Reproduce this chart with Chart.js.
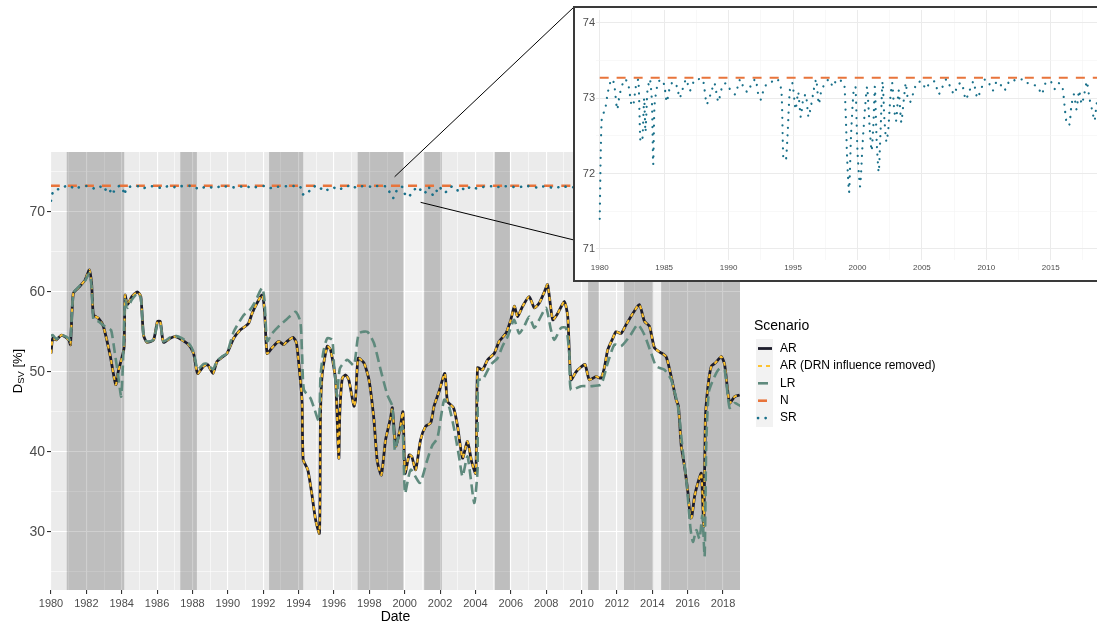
<!DOCTYPE html>
<html>
<head>
<meta charset="utf-8">
<script src="https://cdn.jsdelivr.net/npm/chart.js@4.4.0/dist/chart.umd.min.js"></script>
<style>
  html, body { margin: 0; padding: 0; background: #fff; overflow: hidden; width: 1097px; height: 624px; }
  #main { position: absolute; left: 0; top: 0; }
  #insetBox { position: absolute; left: 573px; top: 6px; width: 560px; height: 276px; border: 2px solid #3a3a3a; background: #fff; box-sizing: border-box; }
  #inset { position: absolute; left: 0; top: 0; }
</style>
</head>
<body>
<canvas id="main" width="1097" height="624"></canvas>
<div id="insetBox"><canvas id="inset" width="530" height="272"></canvas></div>
<script>
// ---- data ----
const arYears = [1980.0, 1980.1, 1980.3, 1980.6, 1981.0, 1981.1, 1981.26, 1981.55, 1981.93, 1982.17, 1982.3, 1982.4, 1982.68, 1982.96, 1983.34, 1983.66, 1983.8, 1984.0, 1984.13, 1984.19, 1984.32, 1984.57, 1984.89, 1985.08, 1985.23, 1985.42, 1985.8, 1986.02, 1986.18, 1986.36, 1986.74, 1987.03, 1987.4, 1987.78, 1988.06, 1988.29, 1988.63, 1988.86, 1989.16, 1989.39, 1989.67, 1989.95,
  1990.33, 1990.71, 1990.99, 1991.18, 1991.37, 1991.65, 1991.94, 1992.07, 1992.22, 1992.5, 1992.88, 1993.16, 1993.35, 1993.69, 1993.88, 1994.1, 1994.2, 1994.26, 1994.52, 1994.77, 1994.96, 1995.18, 1995.24, 1995.34, 1995.62, 1995.81, 1996.09, 1996.22, 1996.28, 1996.33, 1996.47, 1996.66, 1996.84, 1997.13, 1997.22, 1997.37, 1997.7, 1997.98, 1998.26, 1998.45, 1998.68, 1998.92, 1999.2, 1999.3, 1999.49, 1999.73, 1999.9,
  2000.02, 2000.25, 2000.4, 2000.62, 2000.9, 2001.19, 2001.47, 2001.66, 2001.94, 2002.27, 2002.42, 2002.76, 2002.99, 2003.27, 2003.55, 2003.78, 2004.02, 2004.12, 2004.4, 2004.69, 2005.06, 2005.34, 2005.72, 2006.0, 2006.2, 2006.38, 2006.67, 2007.04, 2007.33, 2007.61, 2007.9, 2008.08, 2008.37, 2008.65, 2009.03, 2009.22, 2009.4, 2009.69, 2009.97,
  2010.2, 2010.44, 2010.82, 2011.1, 2011.29, 2011.48, 2011.77, 2011.95, 2012.24, 2012.52, 2012.9, 2013.27, 2013.56, 2013.84, 2014.12, 2014.4, 2014.78, 2015.07, 2015.35, 2015.48, 2015.64, 2015.82, 2016.02, 2016.15, 2016.23, 2016.39, 2016.58, 2016.77, 2016.86, 2016.92, 2017.0, 2017.15, 2017.34, 2017.56, 2017.9, 2018.09, 2018.37, 2018.66, 2018.94];
const arValues = [52.3, 54.2, 54.0, 54.6, 54.0, 53.4, 59.8, 60.5, 61.5, 62.75, 60.9, 57.1, 56.7, 55.7, 52.1, 48.4, 50.0, 51.7, 53.0, 59.6, 58.4, 59.4, 60.0, 59.4, 54.6, 53.7, 54.0, 56.3, 56.3, 53.7, 54.2, 54.4, 54.0, 53.4, 52.3, 49.8, 50.7, 50.9, 49.8, 51.3, 51.8, 52.3,
  54.2, 55.25, 55.7, 56.1, 57.3, 58.6, 59.6, 57.75, 52.3, 53.0, 53.8, 53.4, 53.8, 54.3, 53.6, 49.0, 46.1, 39.0, 37.75, 34.4, 31.5, 29.8, 44.8, 49.8, 53.2, 52.75, 49.0, 41.5, 39.2, 44.8, 49.2, 49.6, 49.0, 45.7, 46.5, 51.7, 51.1, 49.0, 44.0, 38.8, 37.1, 41.5, 44.2, 45.5, 40.7, 42.75, 45.0,
  37.3, 39.6, 39.4, 37.75, 41.5, 43.2, 43.6, 45.7, 47.5, 49.8, 46.3, 45.5, 43.2, 39.2, 41.3, 38.8, 37.3, 50.5, 50.25, 51.5, 52.3, 53.8, 54.8, 56.5, 58.2, 56.9, 58.2, 59.4, 58.0, 58.6, 60.0, 60.9, 56.5, 57.3, 58.8, 56.9, 49.0, 50.0, 50.6,
  50.9, 49.0, 49.4, 49.2, 50.5, 52.75, 54.2, 55.0, 54.8, 55.9, 57.3, 58.4, 56.3, 55.7, 53.0, 52.5, 51.9, 49.4, 46.5, 45.7, 40.7, 38.2, 34.8, 31.7, 31.8, 34.4, 36.1, 37.3, 33.2, 30.7, 44.0, 48.2, 50.7, 51.1, 51.9, 50.9, 46.1, 46.9, 47.1];
// AR with DRN influence removed sits on top of AR in the picture
const drnYears = arYears;
const drnValues = arValues;
const lrYears = [1980.0, 1980.1, 1980.3, 1980.6, 1981.0, 1981.1, 1981.26, 1981.55, 1981.93, 1982.17, 1982.3, 1982.4, 1982.68, 1982.96, 1983.2, 1983.4, 1983.6, 1983.8, 1983.97, 1984.1, 1984.19, 1984.32, 1984.57, 1984.89, 1985.08, 1985.23, 1985.42, 1985.8, 1986.02, 1986.18, 1986.36, 1986.74, 1987.03, 1987.4, 1987.78, 1988.06, 1988.29, 1988.63, 1988.86, 1989.16, 1989.39, 1989.67, 1989.95,
  1990.33, 1990.9, 1991.2, 1991.5, 1991.94, 1992.07, 1992.22, 1992.5, 1992.97, 1993.3, 1993.82, 1994.1, 1994.2, 1994.3, 1994.67, 1994.9, 1995.15, 1995.24, 1995.4, 1995.62, 1995.9, 1996.0, 1996.18, 1996.33, 1996.75, 1997.13, 1997.41, 1997.89, 1998.26, 1998.64, 1999.02, 1999.3, 1999.44, 1999.6, 1999.87,
  2000.02, 2000.34, 2000.86, 2001.28, 2001.56, 2001.85, 2002.23, 2002.5, 2002.8, 2003.1, 2003.27, 2003.55, 2003.93, 2004.12, 2004.15, 2004.4, 2004.87, 2005.25, 2005.53, 2005.82, 2006.19, 2006.47, 2006.76, 2007.04, 2007.33, 2007.6, 2007.99, 2008.27, 2008.46, 2008.84, 2009.12, 2009.31, 2009.4, 2009.97,
  2010.5, 2011.1, 2011.48, 2011.86, 2012.24, 2012.71, 2013.18, 2013.56, 2013.94, 2014.22, 2014.69, 2015.07, 2015.45, 2015.73, 2015.92, 2016.16, 2016.3, 2016.49, 2016.67, 2016.83, 2016.96, 2017.05, 2017.2, 2017.52, 2017.8, 2018.09, 2018.37, 2018.66, 2019.0];
const lrValues = [54.5, 54.6, 54.1, 54.6, 54.2, 53.8, 59.8, 60.6, 61.4, 62.3, 60.5, 56.5, 56.3, 55.8, 55.5, 55.2, 52.5, 49.5, 46.9, 53.0, 59.0, 58.0, 59.0, 59.8, 59.2, 54.6, 53.8, 54.0, 56.0, 56.0, 53.8, 54.3, 54.5, 54.2, 53.6, 52.5, 50.3, 51.0, 51.0, 50.3, 51.4, 51.9, 52.3,
  55.0, 57.1, 57.6, 58.6, 60.5, 59.0, 53.8, 54.8, 55.9, 56.5, 57.5, 56.3, 52.0, 47.75, 46.7, 45.3, 43.8, 49.5, 52.5, 54.2, 54.0, 51.0, 46.9, 50.4, 51.5, 50.8, 54.8, 55.0, 53.6, 50.25, 47.1, 45.7, 40.2, 41.5, 43.2,
  34.8, 37.75, 36.1, 39.0, 40.8, 41.7, 46.5, 45.7, 42.8, 39.0, 36.9, 39.4, 33.6, 37.75, 49.0, 49.0, 50.9, 51.7, 53.2, 54.4, 56.5, 54.8, 55.7, 56.9, 55.5, 56.5, 58.0, 55.25, 54.0, 55.5, 55.5, 52.3, 47.75, 48.2,
  48.2, 48.4, 51.1, 53.4, 53.2, 54.4, 55.9, 54.6, 52.3, 50.7, 50.25, 49.0, 45.7, 40.0, 36.6, 30.4, 28.7, 30.2, 29.1, 32.0, 26.9, 40.7, 47.5, 49.4, 50.4, 50.2, 45.5, 46.1, 45.7];
const nYears = [1980, 2018.96];
const nValues = [73.27, 73.27];
const srYears = [1980.0, 1980.08, 1980.17, 1980.42, 1980.6, 1980.8, 1981.0, 1981.15, 1981.35, 1981.55, 1981.8, 1982.0, 1982.25, 1982.45, 1982.6, 1982.8, 1983.0, 1983.15, 1983.3, 1983.45, 1983.55, 1983.7, 1983.9, 1984.05, 1984.15, 1984.25, 1984.45, 1984.7,
  1985.0, 1985.2, 1985.45, 1985.7, 1986.0, 1986.2, 1986.4, 1986.7, 1987.0, 1987.3, 1987.6, 1988.0, 1988.3, 1988.6, 1988.9, 1989.2, 1989.5, 1989.8, 1990.1, 1990.5, 1990.9, 1991.2, 1991.5, 1991.8, 1992.1, 1992.3, 1992.5, 1992.7, 1993.0, 1993.4, 1993.8,
  1994.1, 1994.25, 1994.45, 1994.6, 1994.75, 1994.95, 1995.2, 1995.4, 1995.6, 1995.8, 1996.0, 1996.2, 1996.4, 1996.6, 1996.8, 1997.0, 1997.2, 1997.5, 1997.8, 1998.1, 1998.4, 1998.8,
  1999.0, 1999.2, 1999.35, 1999.5, 1999.7, 1999.85, 2000.0, 2000.2, 2000.4, 2000.6, 2000.75, 2000.95, 2001.1, 2001.25, 2001.35, 2001.5, 2001.65, 2001.8, 2001.95, 2002.1, 2002.25, 2002.4, 2002.55, 2002.7, 2002.85, 2003.0, 2003.2, 2003.4, 2003.55, 2003.75, 2003.9, 2004.1, 2004.3, 2004.6,
  2005.0, 2005.3, 2005.6, 2006.0, 2006.3, 2006.6, 2006.9, 2007.2, 2007.5, 2007.8, 2008.1, 2008.4, 2008.7, 2009.0, 2009.3, 2009.6, 2009.9, 2010.2, 2010.5, 2010.8, 2011.1, 2011.4, 2011.7, 2012.0, 2012.4, 2012.8, 2013.2, 2013.6, 2014.0, 2014.3, 2014.6,
  2015.0, 2015.3, 2015.6, 2015.9, 2016.1, 2016.25, 2016.45, 2016.6, 2016.8, 2017.0, 2017.2, 2017.4, 2017.6, 2017.8, 2018.0, 2018.2, 2018.4, 2018.6, 2018.9];
const srValues = [71.4, 72.3, 72.75, 72.85, 73.05, 73.2, 73.25, 73.15, 72.85, 73.05, 73.2, 73.25, 73.15, 72.92, 72.9, 73.15, 73.25, 72.45, 72.42, 73.0, 72.55, 73.1, 73.25, 72.95, 72.12, 72.9, 73.15, 73.25,
  73.18, 72.95, 73.15, 73.22, 73.15, 73.0, 73.1, 73.25, 73.1, 73.22, 73.25, 73.25, 72.92, 73.05, 73.2, 72.95, 73.15, 73.2, 73.12, 73.05, 73.25, 73.12, 73.08, 73.2, 73.25, 73.05, 72.98, 73.1, 73.2, 73.22, 73.25,
  73.1, 72.2, 72.18, 72.6, 73.1, 73.2, 72.85, 73.08, 72.75, 73.0, 73.05, 72.75, 72.9, 73.1, 73.25, 72.92, 73.1, 73.2, 73.25, 73.15, 73.25, 73.22,
  73.15, 72.2, 71.75, 72.5, 73.1, 73.15, 72.3, 71.83, 72.4, 72.9, 73.15, 72.6, 72.3, 72.7, 73.15, 72.4, 72.02, 72.6, 73.22, 72.7, 72.42, 72.6, 73.0, 73.2, 72.85, 72.7, 73.1, 72.68, 72.9, 73.2, 73.0, 72.95, 73.05, 73.2,
  73.22, 73.12, 73.2, 73.22, 73.05, 73.15, 73.25, 73.15, 73.05, 73.18, 73.2, 72.98, 73.1, 73.22, 73.0, 73.12, 73.25, 73.2, 73.1, 73.22, 73.18, 73.1, 73.2, 73.25, 73.22, 73.25, 73.2, 73.18, 73.15, 73.05, 73.2,
  73.22, 73.12, 73.2, 73.15, 72.85, 72.65, 72.65, 72.9, 73.05, 72.85, 73.1, 72.92, 73.05, 73.22, 73.0, 72.85, 72.7, 72.95, 72.8];

// shaded periods (dark) and the two pale gaps
const shadeStart = [1980.89, 1987.31, 1992.33, 1997.34, 2001.1, 2005.1, 2010.37, 2012.4, 2014.5];
const shadeEnd = [1984.14, 1988.25, 1994.26, 1999.93, 2002.1, 2005.95, 2010.97, 2014.05, 2018.96];
const paleStart = [1999.93, 2014.05];
const paleEnd = [2001.1, 2014.5];

// axis ticks
const xLabelYears = [1980, 1982, 1984, 1986, 1988, 1990, 1992, 1994, 1996, 1998, 2000, 2002, 2004, 2006, 2008, 2010, 2012, 2014, 2016, 2018];
const xMinorYears = [1981, 1983, 1985, 1987, 1989, 1991, 1993, 1995, 1997, 1999, 2001, 2003, 2005, 2007, 2009, 2011, 2013, 2015, 2017];
const yLabelValues = [30, 40, 50, 60, 70];
const yMinorValues = [25, 35, 45, 55, 65, 75];
const insetXLabels = [1980, 1985, 1990, 1995, 2000, 2005, 2010, 2015];
const insetXMinor = [1982.5, 1987.5, 1992.5, 1997.5, 2002.5, 2007.5, 2012.5, 2017.5];
const insetYLabels = [71, 72, 73, 74];
const insetYMinor = [71.5, 72.5, 73.5];

// zoom window corners on the main chart (data units)
const zoomFromX = [1999.43, 2000.9];
const zoomFromY = [74.4, 71.2];

const FONT = "'Liberation Sans', Arial, sans-serif";
const pts = (xs, ys) => xs.map((x, i) => ({ x: x, y: ys[i] }));

const scenarios = [
    { label: "AR", years: arYears, values: arValues, color: "#1c1c2b", width: 2.8, dash: [], order: 5 },
    { label: "AR (DRN influence removed)", years: drnYears, values: drnValues, color: "#fdc22f", width: 2, dash: [4, 4], order: 4 },
    { label: "LR", years: lrYears, values: lrValues, color: "#5f8a7d", width: 2.6, dash: [10, 5], order: 3 },
    { label: "N", years: nYears, values: nValues, color: "#e8743b", width: 2.6, dash: [9, 8], order: 2 },
    { label: "SR", years: srYears, values: srValues, color: "#19708a", width: 2.6, dash: [0.1, 7.5], cap: "round", order: 1 },
];

function setTicks(list) {
    return (scale) => { scale.ticks = list.slice().sort((a, b) => a - b).map(v => ({ value: v })); };
}

// keep chart areas exactly where the panels are
function fitWidth(w) {
    return (s) => { s.width = w; s.paddingTop = 0; s.paddingBottom = 0; };
}
function fitHeight(h) {
    return (s) => { s.height = h; s.paddingLeft = 0; s.paddingRight = 0; };
}

// panel background, shaded periods, titles, legend, connector lines
const panelPlugin = {
    id: "panel",
    beforeDraw(chart) {
        const a = chart.chartArea, ctx = chart.ctx;
        ctx.save();
        ctx.fillStyle = "#ebebeb";
        ctx.fillRect(a.left, a.top, a.right - a.left, a.bottom - a.top);
        ctx.restore();
    },
    beforeDatasetsDraw(chart) {
        const a = chart.chartArea, ctx = chart.ctx, xs = chart.scales.x;
        ctx.save();
        ctx.beginPath();
        ctx.rect(a.left, a.top, a.right - a.left, a.bottom - a.top);
        ctx.clip();
        ctx.fillStyle = "rgba(0,0,0,0.19)";
        shadeStart.forEach((s, i) => {
            const x0 = xs.getPixelForValue(s), x1 = xs.getPixelForValue(shadeEnd[i]);
            ctx.fillRect(x0, a.top, x1 - x0, a.bottom - a.top);
        });
        ctx.fillStyle = "rgba(255,255,255,0.3)";
        paleStart.forEach((s, i) => {
            const x0 = xs.getPixelForValue(s), x1 = xs.getPixelForValue(paleEnd[i]);
            ctx.fillRect(x0, a.top, x1 - x0, a.bottom - a.top);
        });
        ctx.restore();
    },
    afterDraw(chart) {
        const a = chart.chartArea, ctx = chart.ctx;
        const xs = chart.scales.x, ys = chart.scales.y;
        ctx.save();

        // x title
        ctx.fillStyle = "#000";
        ctx.font = "14px " + FONT;
        ctx.textAlign = "center";
        ctx.textBaseline = "middle";
        ctx.fillText("Date", (a.left + a.right) / 2, 617);

        // y title D_SV [%]
        ctx.save();
        ctx.translate(18, (a.top + a.bottom) / 2);
        ctx.rotate(-Math.PI / 2);
        ctx.textAlign = "left";
        ctx.textBaseline = "middle";
        ctx.font = "13px " + FONT;
        const wD = ctx.measureText("D").width;
        const wRest = ctx.measureText(" [%]").width;
        ctx.font = "9.5px " + FONT;
        const wSub = ctx.measureText("SV").width;
        let x0 = -(wD + wSub + wRest) / 2;
        ctx.font = "13px " + FONT;
        ctx.fillText("D", x0, 0);
        ctx.font = "9.5px " + FONT;
        ctx.fillText("SV", x0 + wD, 3.5);
        ctx.font = "13px " + FONT;
        ctx.fillText(" [%]", x0 + wD + wSub, 0);
        ctx.restore();

        // legend
        ctx.textAlign = "left";
        ctx.textBaseline = "middle";
        ctx.font = "14px " + FONT;
        ctx.fillStyle = "#000";
        ctx.fillText("Scenario", 754, 326);
        ctx.fillStyle = "#f2f2f2";
        ctx.fillRect(756, 339, 17, 88);
        ctx.font = "12px " + FONT;
        scenarios.forEach((s, i) => {
            const cy = 348.5 + i * 17.4;
            ctx.save();
            ctx.strokeStyle = s.color;
            ctx.lineWidth = s.width;
            ctx.setLineDash(s.dash);
            ctx.lineCap = s.cap || "butt";
            ctx.beginPath();
            ctx.moveTo(758, cy);
            ctx.lineTo(772, cy);
            ctx.stroke();
            ctx.restore();
            ctx.fillStyle = "#000";
            ctx.fillText(s.label, 780, cy);
        });

        // connector lines to the inset
        const box = document.getElementById("insetBox");
        const bx = box.offsetLeft + 1, by = box.offsetTop + 1;
        const targets = [[bx, by], [bx, by + 233]];
        ctx.strokeStyle = "#000";
        ctx.lineWidth = 1;
        zoomFromX.forEach((zx, i) => {
            ctx.beginPath();
            ctx.moveTo(xs.getPixelForValue(zx), ys.getPixelForValue(zoomFromY[i]));
            ctx.lineTo(targets[i][0], targets[i][1]);
            ctx.stroke();
        });
        ctx.restore();
    }
};

new Chart(document.getElementById("main"), {
    type: "line",
    data: {
        datasets: scenarios.map(s => ({
            label: s.label,
            data: pts(s.years, s.values),
            borderColor: s.color,
            borderWidth: s.width,
            borderDash: s.dash,
            borderCapStyle: s.cap || "butt",
            pointRadius: 0,
            tension: 0.2,
            fill: false,
            order: s.order
        }))
    },
    options: {
        responsive: false,
        animation: false,
        events: [],
        layout: { padding: { left: 0, top: 152, right: 357, bottom: 0 } },
        plugins: { legend: { display: false }, tooltip: { enabled: false } },
        scales: {
            x: {
                type: "linear", min: 1980, max: 2018.96,
                afterBuildTicks: setTicks(xLabelYears.concat(xMinorYears)),
                afterFit: fitHeight(34),
                border: { display: false },
                grid: {
                    color: "#ffffff",
                    lineWidth: c => xLabelYears.includes(c.tick.value) ? 1.1 : 0.55,
                    tickColor: c => xLabelYears.includes(c.tick.value) ? "#333333" : "rgba(0,0,0,0)",
                    tickLength: 4
                },
                ticks: {
                    autoSkip: false, maxRotation: 0, padding: 3, color: "#4d4d4d",
                    font: { family: FONT, size: 11 },
                    callback: v => xLabelYears.includes(v) ? String(v) : ""
                }
            },
            y: {
                type: "linear", min: 22.7, max: 77.5,
                afterBuildTicks: setTicks(yLabelValues.concat(yMinorValues)),
                afterFit: fitWidth(51),
                border: { display: false },
                grid: {
                    color: "#ffffff",
                    lineWidth: c => yLabelValues.includes(c.tick.value) ? 1.1 : 0.55,
                    tickColor: c => yLabelValues.includes(c.tick.value) ? "#333333" : "rgba(0,0,0,0)",
                    tickLength: 4
                },
                ticks: {
                    autoSkip: false, padding: 2, color: "#4d4d4d",
                    font: { family: FONT, size: 14 },
                    callback: v => yLabelValues.includes(v) ? String(v) : ""
                }
            }
        }
    },
    plugins: [panelPlugin]
});

// inset: zoom on N and SR
const insetSeries = scenarios.filter(s => s.label === "N" || s.label === "SR");
new Chart(document.getElementById("inset"), {
    type: "line",
    data: {
        datasets: insetSeries.map(s => ({
            label: s.label,
            data: pts(s.years, s.values),
            borderColor: s.color,
            borderWidth: 2.2,
            borderDash: s.dash,
            borderCapStyle: s.cap || "butt",
            pointRadius: 0,
            tension: 0.2,
            fill: false,
            order: s.order
        }))
    },
    options: {
        responsive: false,
        animation: false,
        events: [],
        layout: { padding: { left: 0, top: 2, right: 0, bottom: 0 } },
        plugins: { legend: { display: false }, tooltip: { enabled: false } },
        scales: {
            x: {
                type: "linear", min: 1979.71, max: 2019.21,
                afterBuildTicks: setTicks(insetXLabels.concat(insetXMinor)),
                afterFit: fitHeight(20),
                border: { display: false },
                grid: {
                    drawTicks: false,
                    color: c => insetXLabels.includes(c.tick.value) ? "#ebebeb" : "#f4f4f4",
                    lineWidth: c => insetXLabels.includes(c.tick.value) ? 1 : 0.6
                },
                ticks: {
                    autoSkip: false, maxRotation: 0, padding: 3, color: "#4d4d4d",
                    font: { family: FONT, size: 8 },
                    callback: v => insetXLabels.includes(v) ? String(v) : ""
                }
            },
            y: {
                type: "linear", min: 70.854, max: 74.168,
                afterBuildTicks: setTicks(insetYLabels.concat(insetYMinor)),
                afterFit: fitWidth(21),
                border: { display: false },
                grid: {
                    drawTicks: false,
                    color: c => insetYLabels.includes(c.tick.value) ? "#ebebeb" : "#f4f4f4",
                    lineWidth: c => insetYLabels.includes(c.tick.value) ? 1 : 0.6
                },
                ticks: {
                    autoSkip: false, padding: 1, color: "#4d4d4d",
                    font: { family: FONT, size: 11 },
                    callback: v => insetYLabels.includes(v) ? String(v) : ""
                }
            }
        }
    }
});
</script>
</body>
</html>
